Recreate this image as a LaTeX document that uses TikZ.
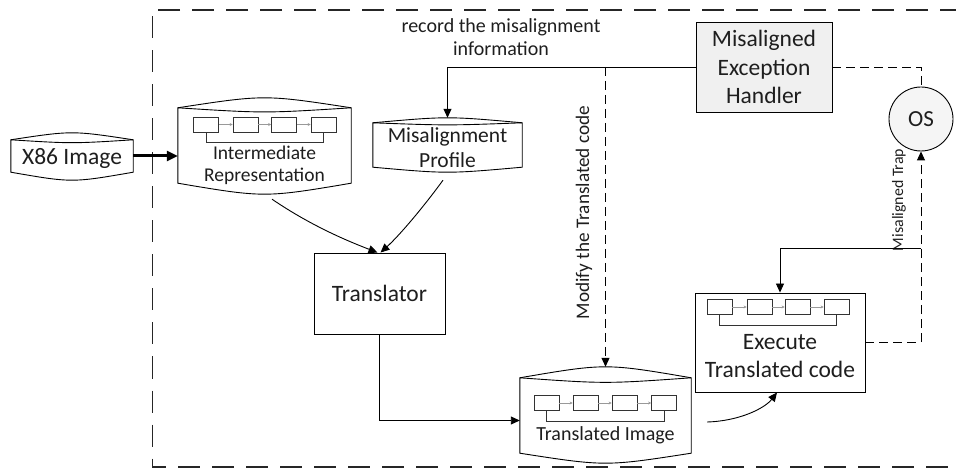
\documentclass[tikz,border=0pt]{standalone}
\usepackage{fontspec}
\setmainfont{Carlito}
\usetikzlibrary{arrows.meta,calc}
\definecolor{txt}{HTML}{1E1E1E}
\tikzset{
 shapeline/.style={draw=black,line width=0.9pt},
 boxnode/.style={shapeline,rectangle,inner sep=0pt,text=txt,align=center},
 storebox/.style={rectangle,inner sep=0pt,draw=none},
 lbl/.style={text=txt,inner sep=0pt,align=center},
 cbox/.style={draw=black!80,line width=0.7pt,minimum width=25pt,minimum height=15pt,inner sep=0pt},
 clink/.style={draw=black!40,line width=0.8pt,-{Stealth[length=3pt,width=3pt]}},
 cbrk/.style={draw=black!80,line width=0.8pt},
 conn/.style={draw=black,line width=0.9pt},
 tip/.style={-{Triangle[length=9pt,width=8pt]}},
 dashconn/.style={conn,dash pattern=on 9pt off 5pt},
 border/.style={draw=black!85,line width=1.4pt,dash pattern=on 22pt off 12pt},
}
\newcommand\storeoutline[3]{%
  \draw[shapeline,fill=white] (#1.north west) .. controls ($(#1.north)+(0,1.33*#2)$) .. (#1.north east)
     -- (#1.south east) .. controls ($(#1.south)+(0,-1.33*#3)$) .. (#1.south west) -- cycle;
  \draw[shapeline] (#1.north west) .. controls ($(#1.north)+(0,-0.55*#2)$) .. (#1.north east);
}
\newcommand\chainrow[6]{%
  \node[cbox] (#11) at (#2,#6) {};
  \node[cbox] (#12) at (#3,#6) {};
  \node[cbox] (#13) at (#4,#6) {};
  \node[cbox] (#14) at (#5,#6) {};
  \draw[clink] (#11.east) -- (#12.west);
  \draw[clink] (#12.east) -- (#13.west);
  \draw[clink] (#13.east) -- (#14.west);
  \draw[cbrk] (#11.south) -- ++(0,10.5) -| (#14.south);
}
\begin{document}
\begin{tikzpicture}[x=1pt,y=-1pt]
\useasboundingbox (0,0) rectangle (956,470);
% outer dashed frame
\draw[border] (962,10) -- (152.5,10) -- (152.5,467) -- (962,467);

% X86 image
\node[storebox,minimum width=122pt,minimum height=32pt] (x86) at (72,156) {};
\storeoutline{x86}{7pt}{8pt}
\node[lbl,anchor=base,font=\fontsize{23.5}{28}\selectfont] (x86t) at (72,165) {X86 Image};

% Intermediate representation
\node[storebox,minimum width=173pt,minimum height=75pt] (ir) at (264.5,145.5) {};
\storeoutline{ir}{10pt}{11pt}
\chainrow{ir}{206}{245.5}{284}{323.5}{124.5}
\node[lbl,font=\fontsize{19.5}{22}\selectfont] (irt) at (264.5,165.5) {Intermediate\\Representation};

% Misalignment profile
\node[storebox,minimum width=149pt,minimum height=44pt] (mp) at (447.5,145) {};
\storeoutline{mp}{5pt}{5pt}
\node[lbl,font=\fontsize{21.5}{25}\selectfont] (mpt) at (447.5,148) {Misalignment\\Profile};

% Misaligned exception handler
\node[boxnode,fill=black!6,minimum width=136pt,minimum height=90pt,font=\fontsize{23.5}{28.5}\selectfont] (handler) at (764,67) {Misaligned\\Exception\\Handler};

% OS
\node[circle,shapeline,fill=black!4,minimum size=64pt,inner sep=0pt,text=txt,font=\fontsize{23}{27}\selectfont] (os) at (921,119) {OS};

% Translator
\node[boxnode,minimum width=131pt,minimum height=81pt,font=\fontsize{23.5}{28}\selectfont] (tr) at (379.5,293.5) {Translator};

% Translated image
\node[storebox,minimum width=171pt,minimum height=75pt] (ti) at (605.5,415.5) {};
\storeoutline{ti}{11pt}{10pt}
\chainrow{ti}{546.5}{585.5}{624.5}{664}{403}
\node[lbl,anchor=base,font=\fontsize{20}{24}\selectfont] (tit) at (605.5,440) {Translated Image};

% Execute translated code
\node[boxnode,minimum width=170pt,minimum height=99pt] (exec) at (780,342.5) {};
\chainrow{ex}{719.5}{759.5}{797.5}{836.5}{307}
\node[lbl,font=\fontsize{23.5}{28}\selectfont] (exect) at (780,356) {Execute\\Translated code};

% labels
\node[lbl,font=\fontsize{20}{23}\selectfont] (rec) at (501,37.5) {record the misalignment\\information};
\node[lbl,rotate=90,font=\fontsize{19.2}{23}\selectfont] (mod) at (584,212.5) {Modify the Translated code};
\node[lbl,rotate=90,font=\fontsize{15.9}{19}\selectfont] (trap) at (899,200) {Misaligned Trap};

% connectors
\draw[conn,line width=3pt,-{Triangle[length=11pt,width=10pt]}] (x86.east) -- (x86.east -| ir.west);
\draw[conn,tip] ([xshift=7.5pt,yshift=-16pt]ir.south) .. controls (310,225) and (345,240) .. ([xshift=-2pt]tr.north);
\draw[conn,tip] ([xshift=-4.5pt,yshift=-13pt]mp.south) .. controls (425,205) and (400,235) .. ([xshift=1pt]tr.north);
\draw[conn,tip] (handler.west) -| ([yshift=5pt]mp.north);
\draw[dashconn,tip] (handler.west -| ti.north) -- ([yshift=11pt]ti.north);
\draw[dashconn] (handler.east) -| (os.north);
\draw[conn,tip] (tr.south) |- ([yshift=-5pt]ti.west);
\draw[conn,tip] ([xshift=16pt,yshift=-6.5pt]ti.east) .. controls (740,421) and (765,408) .. ([xshift=-3pt]exec.south);
\draw[dashconn,tip] (exec.east) -| (os.south);
\coordinate (junc) at (921,248);
\draw[conn,tip] (junc) -| (exec.north);
\end{tikzpicture}
\end{document}
